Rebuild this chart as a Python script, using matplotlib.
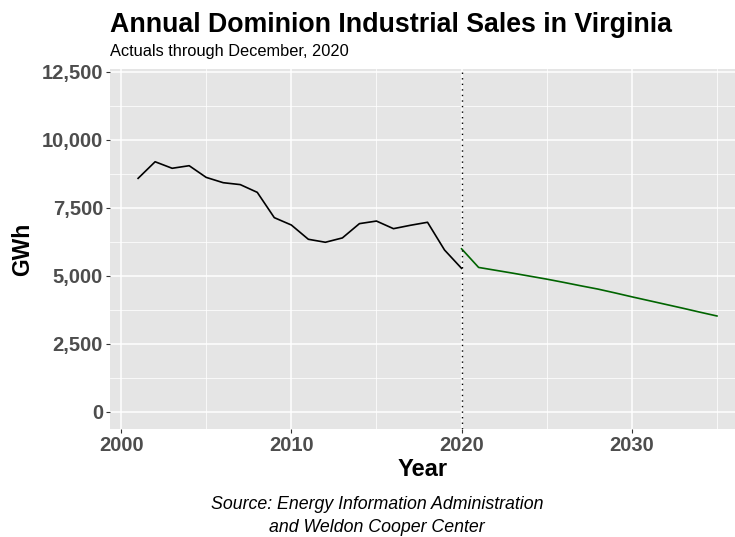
import matplotlib
matplotlib.use("Agg")
import matplotlib.pyplot as plt
from matplotlib.ticker import FuncFormatter, MultipleLocator

plt.rcParams['font.family'] = ['Liberation Sans', 'DejaVu Sans']

actual_years = list(range(2001, 2021))
actual_gwh = [8590, 9200, 8960, 9055, 8625, 8430, 8360, 8075, 7145, 6875,
              6350, 6240, 6400, 6925, 7020, 6740, 6865, 6975, 5955, 5280]

proj_years = list(range(2020, 2036))
proj_gwh = [6000, 5315, 5210, 5105, 4995, 4885, 4765, 4640, 4520, 4380,
            4235, 4095, 3955, 3815, 3670, 3530]

event_year = 2020
title = "Annual Dominion Industrial Sales in Virginia"
subtitle = "Actuals through December, 2020"
caption = "Source: Energy Information Administration\nand Weldon Cooper Center"

W, H = 735, 537
fig = plt.figure(figsize=(W / 100, H / 100), dpi=100)
ax = fig.add_axes([110 / W, (H - 429) / H, 625 / W, 360 / H])
ax.set_facecolor('#E5E5E5')
for s in ax.spines.values():
    s.set_visible(False)

ax.set_xlim(1999.35, 2036.06)
ax.set_ylim(-625, 12610)
ax.xaxis.set_major_locator(MultipleLocator(10))
ax.xaxis.set_minor_locator(MultipleLocator(5))
ax.yaxis.set_major_locator(MultipleLocator(2500))
ax.yaxis.set_minor_locator(MultipleLocator(1250))
ax.grid(which='major', color='white', linewidth=1.1)
ax.grid(which='minor', color='white', linewidth=0.55)
ax.set_axisbelow(True)
ax.tick_params(which='minor', length=0)
ax.tick_params(which='major', length=3, width=0.8, color='#333333',
               labelsize=14.5, labelcolor='#4D4D4D', pad=2)
ax.yaxis.set_major_formatter(FuncFormatter(lambda v, p: f"{int(v):,}"))

ax.plot(actual_years, actual_gwh, color='black', linewidth=1.2)
ax.plot(proj_years, proj_gwh, color='#006400', linewidth=1.2)
ax.axvline(event_year, color='black', linestyle=(0, (1, 3)), linewidth=1.0)

for lab in ax.get_xticklabels() + ax.get_yticklabels():
    lab.set_fontweight('bold')

ax.set_xlabel("Year", fontsize=17, fontweight='bold', labelpad=2)
ax.set_ylabel("GWh", fontsize=16.5, fontweight='bold', labelpad=5)

fig.text(110 / W, 1 - 32 / H, title, fontsize=19.3, fontweight='bold', ha='left', va='baseline')
fig.text(110 / W, 1 - 56 / H, subtitle, fontsize=11.8, ha='left', va='baseline')
fig.text(377 / W, 1 - 516 / H, caption, fontsize=12.8, style='italic', ha='center',
         va='center', linespacing=1.45)

fig.savefig("out.png", dpi=100)
